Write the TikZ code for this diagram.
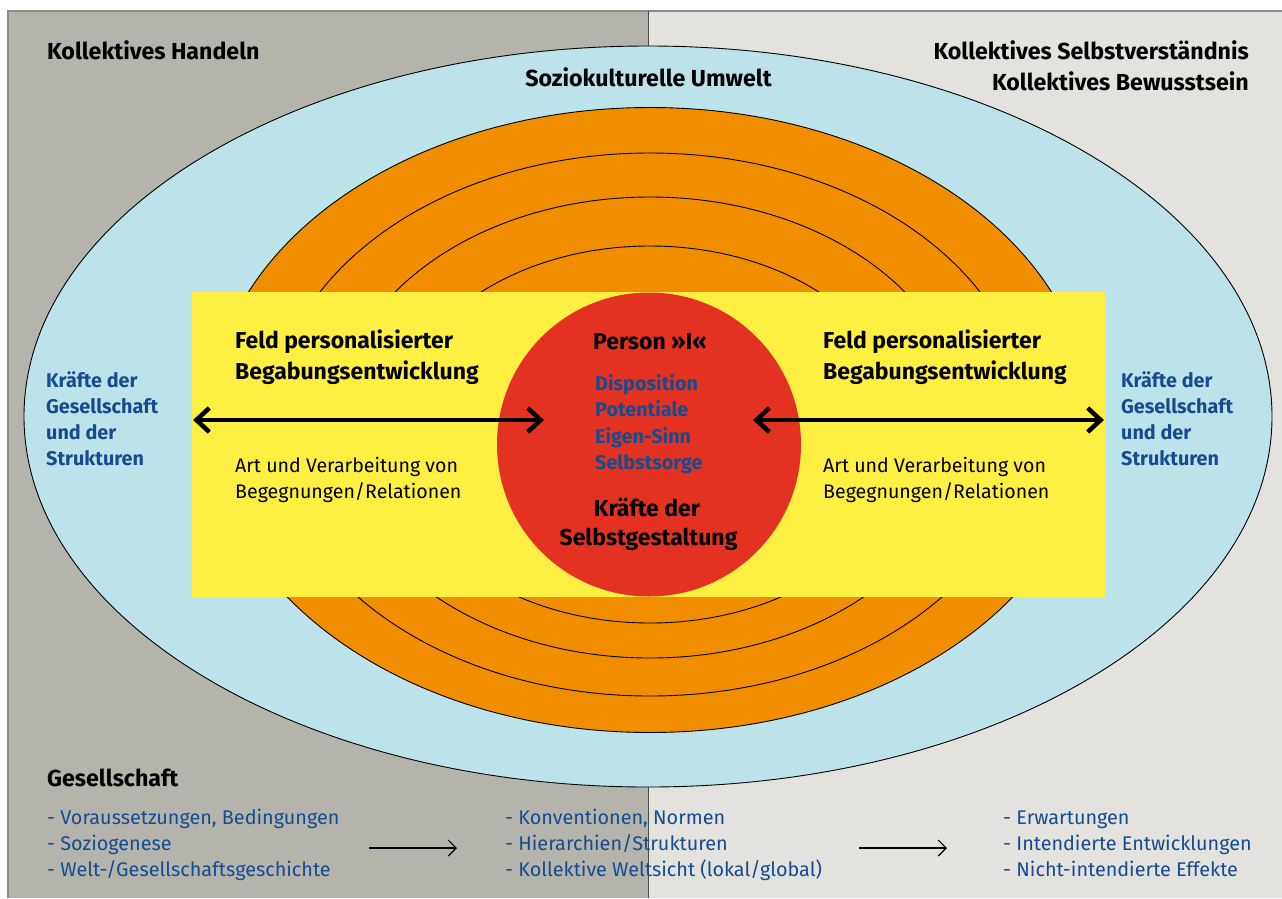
\documentclass[tikz,border=0pt]{standalone}
\usepackage{fontspec}
\setmainfont{Fira Sans}
\usetikzlibrary{arrows.meta}
\definecolor{panelL}{HTML}{B5B4AC}
\definecolor{panelR}{HTML}{E3E2DE}
\definecolor{umwelt}{HTML}{BDE3EA}
\definecolor{ringc}{HTML}{F18E00}
\definecolor{feld}{HTML}{FFEF42}
\definecolor{person}{HTML}{E43222}
\definecolor{dblue}{HTML}{154C8F}
\definecolor{framec}{HTML}{8C8A84}
\tikzset{
  txt/.style={inner sep=0pt, anchor=base west},
  txtr/.style={inner sep=0pt, anchor=base east},
  txtc/.style={inner sep=0pt, anchor=base},
  head/.style={font=\fontsize{23.2}{28}\selectfont\bfseries},
  feldt/.style={font=\fontsize{23}{27}\selectfont\bfseries},
  body/.style={font=\fontsize{19.6}{23}\selectfont},
  kraft/.style={font=\fontsize{19.8}{23}\selectfont\bfseries, text=dblue},
  listt/.style={font=\fontsize{19.8}{23}\selectfont, text=dblue},
  ringe/.style={fill=ringc, draw=black, line width=0.9pt},
  bigarrow/.style={line width=4.5pt, {Straight Barb[length=13pt,width=24pt]}-{Straight Barb[length=13pt,width=24pt]}},
  thinarrow/.style={line width=1.2pt, -{Straight Barb[length=8pt,width=16pt]}},
}
\begin{document}
\begin{tikzpicture}[x=1pt,y=-1pt]
\useasboundingbox (0,0) rectangle (1282,898);
\fill[white] (0,0) rectangle (1282,898);
\fill[panelL] (8,11) rectangle (648,898);
\fill[panelR] (648,11) rectangle (1282,898);
\draw[framec, line width=1.3pt] (8,898) -- (8,11) -- (1282,11);
\draw[black!70, line width=1pt] (648,11) -- (648,898);
% Soziokulturelle Umwelt
\draw[fill=umwelt, draw=black, line width=0.9pt] (648,416.5) ellipse [x radius=624pt, y radius=370.5pt];
% rings
\draw[ringe] (650,420) ellipse [x radius=440pt, y radius=312.5pt];
\draw[ringe] (650,424.5) ellipse [x radius=378pt, y radius=271.5pt];
\draw[ringe] (650,427.5) ellipse [x radius=315pt, y radius=230.5pt];
\draw[ringe] (650,434.5) ellipse [x radius=258pt, y radius=188.5pt];
% Feld
\fill[feld] (192,292) rectangle (1105,597);
% Person
\fill[person] (649,444.5) circle [radius=152pt];

% arrows
\coordinate (aLl) at (193,420);
\coordinate (aLr) at (544,420);
\coordinate (aRl) at (753,420);
\coordinate (aRr) at (1104,420);
\draw[bigarrow] (aLl) -- (aLr);
\draw[bigarrow] (aRl) -- (aRr);

% headings
\node[txt, head] (kh) at (47,59) {Kollektives Handeln};
\node[txtr, head] (ks) at (1249,59) {Kollektives Selbstverständnis};
\node[txtr, head] (kb) at (1249,90) {Kollektives Bewusstsein};
\node[txtc, head] (su) at (648.5,86) {Soziokulturelle Umwelt};

% Kräfte der Gesellschaft
\node[txt, kraft] (kl1) at (46,387.3) {Kräfte der};
\node[txt, kraft] (kl2) at (46,413.3) {Gesellschaft};
\node[txt, kraft] (kl3) at (46,439.3) {und der};
\node[txt, kraft] (kl4) at (46,465.3) {Strukturen};
\node[txt, kraft] (kr1) at (1121,387.3) {Kräfte der};
\node[txt, kraft] (kr2) at (1121,413.3) {Gesellschaft};
\node[txt, kraft] (kr3) at (1121,439.3) {und der};
\node[txt, kraft] (kr4) at (1121,465.3) {Strukturen};

% Feld texts
\node[txt, feldt] (fl1) at (235,348) {Feld personalisierter};
\node[txt, feldt] (fl2) at (235,379) {Begabungsentwicklung};
\node[txt, body] (al1) at (235,472.7) {Art und Verarbeitung von};
\node[txt, body] (al2) at (235,498.3) {Begegnungen/Relationen};
\node[txt, feldt] (fr1) at (823,348) {Feld personalisierter};
\node[txt, feldt] (fr2) at (823,379) {Begabungsentwicklung};
\node[txt, body] (ar1) at (823,472.7) {Art und Verarbeitung von};
\node[txt, body] (ar2) at (823,498.3) {Begegnungen/Relationen};

% Person texts
\node[txt, feldt] (p0) at (593,349) {Person »I«};
\node[txt, kraft] (p1) at (595,390.7) {Disposition};
\node[txt, kraft] (p2) at (595,416.7) {Potentiale};
\node[txt, kraft] (p3) at (595,443.3) {Eigen-Sinn};
\node[txt, kraft] (p4) at (595,469.3) {Selbstsorge};
\node[txtc, feldt] (p5) at (647,516.7) {Kräfte der};
\node[txtc, feldt] (p6) at (648.5,545) {Selbstgestaltung};

% Gesellschaft
\node[txt, head] (ge) at (47,786) {Gesellschaft};
\node[txt, listt] (g1) at (47,824) {- Voraussetzungen, Bedingungen};
\node[txt, listt] (g2) at (47,850) {- Soziogenese};
\node[txt, listt] (g3) at (47,876.5) {- Welt-/Gesellschaftsgeschichte};
\node[txt, listt] (m1) at (505,824) {- Konventionen, Normen};
\node[txt, listt] (m2) at (505,850) {- Hierarchien/Strukturen};
\node[txt, listt] (m3) at (505,876.5) {- Kollektive Weltsicht (lokal/global)};
\node[txt, listt] (r1) at (1003,824) {- Erwartungen};
\node[txt, listt] (r2) at (1003,850) {- Intendierte Entwicklungen};
\node[txt, listt] (r3) at (1003,876.5) {- Nicht-intendierte Effekte};

\coordinate (t1a) at (369,848);
\coordinate (t1b) at (457,848);
\coordinate (t2a) at (859,848);
\coordinate (t2b) at (947,848);
\draw[thinarrow] (t1a) -- (t1b);
\draw[thinarrow] (t2a) -- (t2b);
\end{tikzpicture}
\end{document}
